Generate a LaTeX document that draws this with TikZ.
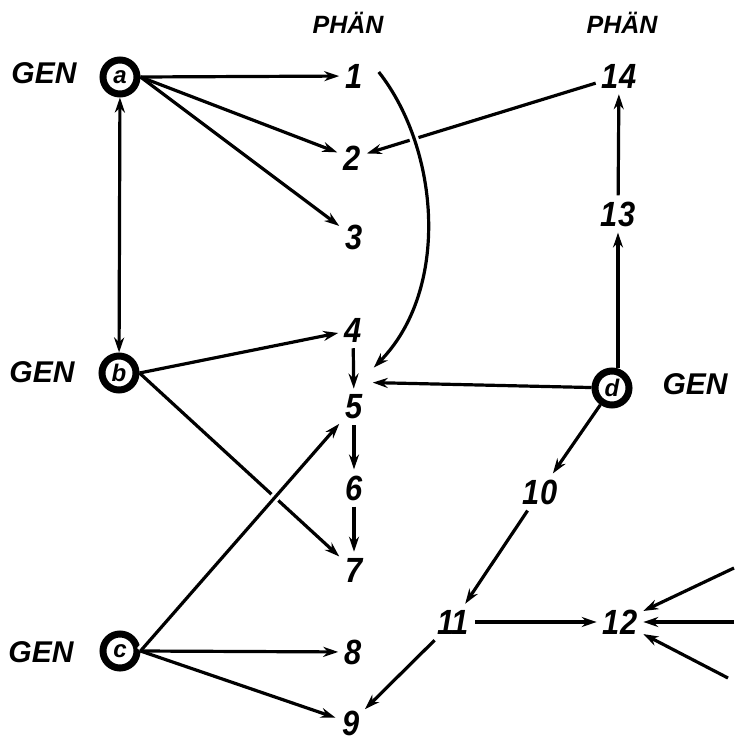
\documentclass[tikz,border=0pt]{standalone}
\usepackage{fontspec}
\setmainfont{Liberation Sans}
\newfontfamily\numfont[FakeStretch=0.88]{Liberation Sans}
\usetikzlibrary{arrows.meta}
\begin{document}
\begin{tikzpicture}[x=1pt,y=-1pt,
 num/.style={font=\numfont\fontsize{35}{35}\selectfont\bfseries\itshape, inner sep=6pt},
 lab/.style={font=\fontsize{30}{30}\selectfont\bfseries\itshape},
 hdr/.style={font=\fontsize{25}{25}\selectfont\bfseries\itshape},
 gene/.style={circle, draw, line width=7pt, minimum size=34pt, inner sep=0pt, font=\fontsize{24}{24}\selectfont\bfseries\itshape},
 arr/.style={line width=3.2pt, -{Stealth[length=15pt,width=10pt]}},
 darr/.style={line width=3.2pt, {Stealth[length=15pt,width=10pt]}-{Stealth[length=15pt,width=10pt]}},
 halo/.style={preaction={draw=white, line width=9pt, -}},
 ]
\useasboundingbox (0,0) rectangle (734,744);
\node[hdr] (h1) at (348,23) {PHÄN};
\node[hdr] (h2) at (622,23) {PHÄN};
\node[gene] (a) at (120,77) {a};
\node[lab] (ga) at (44,73) {GEN};
\node[gene] (b) at (119,373) {b};
\node[lab] (gb) at (42,372) {GEN};
\node[gene] (c) at (120,651) {c};
\node[lab] (gc) at (41,652) {GEN};
\node[gene] (d) at (612,388) {d};
\node[lab] (gd) at (695,384) {GEN};
\node[num] (n1) at (354,76) {1};
\node[num] (n2) at (352,158) {2};
\node[num] (n3) at (354,237) {3};
\node[num] (n4) at (353,330) {4};
\node[num] (n5) at (354,407) {5};
\node[num] (n6) at (354,488) {6};
\node[num] (n7) at (354,570) {7};
\node[num] (n8) at (353,652) {8};
\node[num, inner sep=1pt] (n9) at (351,723) {9};
\node[num] (n10) at (540,492) {10};
\node[num] (n11) at (453,622) {11};
\node[num] (n12) at (620,622) {12};
\node[num] (n13) at (618,214) {13};
\node[num] (n14) at (619,76) {14};
\coordinate (r1) at (734,568);
\coordinate (r2) at (734,622);
\coordinate (r3) at (728,678);
% gene a
\draw[arr] (a.east) -- (n1);
\draw[arr] (a.east) -- (n2);
\draw[arr] (a.east) -- (n3);
\draw[darr] (a) -- (b);
% gene b
\draw[arr] (b.east) -- (n4);
\draw[arr] (b.east) -- (n7);
% gene c
\draw[arr,halo] (c.east) -- (n5);
\draw[arr] (c.east) -- (n8);
\draw[arr, shorten >=6pt] (c.east) -- (n9);
% chain
\draw[arr] (n4) -- (n5);
\draw[arr] (n5) -- (n6);
\draw[arr] (n6) -- (n7);
% gene d side
\draw[arr] (n14) -- (n2);
\draw[arr,halo] ([xshift=10pt,yshift=4pt]n1.east) .. controls (440,150) and (450,290) .. ([xshift=5pt,yshift=21pt]n5.north east);
\draw[arr] (d) -- ([xshift=4pt,yshift=6pt]n5.north east);
\draw[arr] (n13 |- d.north) -- (n13);
\draw[arr] (n13) -- (n14);
\draw[arr] (d) -- (n10);
\draw[arr] (n10) -- (n11);
\draw[arr, shorten >=6pt] (n11) -- (n9);
\draw[arr] (n11) -- (n12);
\draw[arr] (r1) -- (n12);
\draw[arr] (r2) -- (n12);
\draw[arr] (r3) -- (n12);
\end{tikzpicture}
\end{document}
